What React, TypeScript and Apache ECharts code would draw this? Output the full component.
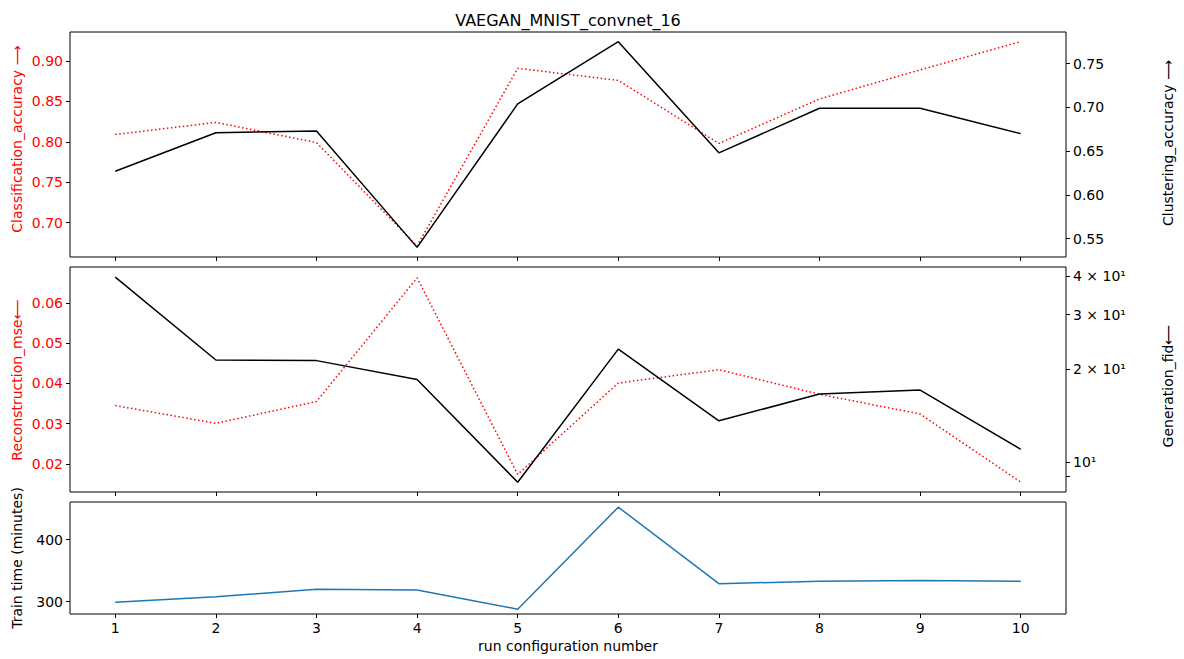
import React, { useEffect, useRef } from "react";
import * as echarts from "echarts";

const runs = [1, 2, 3, 4, 5, 6, 7, 8, 9, 10];
const classificationAccuracy = [0.809, 0.824, 0.799, 0.671, 0.891, 0.876, 0.798, 0.853, 0.889, 0.924];
const clusteringAccuracy = [0.627, 0.671, 0.673, 0.540, 0.704, 0.775, 0.648, 0.699, 0.699, 0.670];
const reconstructionMse = [0.0345, 0.0301, 0.0355, 0.0662, 0.0174, 0.0401, 0.0434, 0.0373, 0.0324, 0.0155];
const generationFid = [39.7, 21.4, 21.3, 18.5, 8.6, 23.2, 13.6, 16.6, 17.1, 11.0];
const trainTime = [299, 308, 320, 319, 288, 452, 329, 333, 334, 333];

const xTicks = runs;
const accTicks = [0.7, 0.75, 0.8, 0.85, 0.9];
const clusTicks = [0.55, 0.6, 0.65, 0.7, 0.75];
const mseTicks = [0.02, 0.03, 0.04, 0.05, 0.06];
const fidTicks = [10, 20, 30, 40];
const fidAllTicks = [9, 10, 20, 30, 40];
const timeTicks = [300, 400];

const FONT = "DejaVu Sans";
const sup: Record<string, string> = { "1": "\u00b9" };

function fidLabel(v: number): string {
  const m = Math.round(v / 10);
  if (m === 1) return "10" + sup["1"];
  return m + " \u00d7 10" + sup["1"];
}

const pairs = (ys: number[]) => runs.map((x, i) => [x, ys[i]]);

function vText(x: number, y: number, text: string, color: string) {
  return {
    type: "text",
    x,
    y,
    rotation: Math.PI / 2,
    style: { text, fill: color, font: `14px '${FONT}'`, textAlign: "center", textVerticalAlign: "middle" },
  };
}

export default function App() {
  const ref = useRef<HTMLDivElement>(null);
  useEffect(() => {
    if (!ref.current) return;
    const chart = echarts.init(ref.current, undefined, { renderer: "svg" });
    const gridBase = {
      left: 70,
      width: 996,
      show: true,
      borderColor: "#000",
      borderWidth: 1,
      backgroundColor: "transparent",
    };
    const xAxisBase = (gi: number, showLabels: boolean) => ({
      type: "value",
      gridIndex: gi,
      min: 0.55,
      max: 10.45,
      splitLine: { show: false },
      axisLine: { show: false },
      axisTick: { show: true, length: 4, customValues: xTicks, lineStyle: { color: "#000" } },
      axisLabel: {
        show: showLabels,
        customValues: xTicks,
        color: "#000",
        fontFamily: FONT,
        fontSize: 14,
        margin: 7,
      },
    });
    const yAxisBase = (
      gi: number,
      pos: string,
      min: number,
      max: number,
      ticks: number[],
      color: string,
      fmt: (v: number) => string
    ) => ({
      type: "value",
      gridIndex: gi,
      position: pos,
      min,
      max,
      splitLine: { show: false },
      axisLine: { show: false },
      axisTick: { show: true, length: 4, customValues: ticks, lineStyle: { color: "#000" } },
      axisLabel: {
        customValues: ticks,
        color,
        fontFamily: FONT,
        fontSize: 14,
        margin: 7,
        formatter: fmt,
      },
    });
    const f2 = (v: number) => v.toFixed(2);
    const option: any = {
      animation: false,
      backgroundColor: "#fff",
      grid: [
        { ...gridBase, top: 32, height: 225 },
        { ...gridBase, top: 267, height: 225 },
        { ...gridBase, top: 502, height: 112 },
      ],
      xAxis: [xAxisBase(0, false), xAxisBase(1, false), xAxisBase(2, true)],
      yAxis: [
        yAxisBase(0, "left", 0.6574, 0.9359, accTicks, "#ff0000", f2),
        yAxisBase(0, "right", 0.529, 0.7861, clusTicks, "#000", f2),
        yAxisBase(1, "left", 0.01304, 0.0689, mseTicks, "#ff0000", f2),
        {
          type: "log",
          logBase: 10,
          gridIndex: 1,
          position: "right",
          min: 8.0,
          max: 42.8,
          splitLine: { show: false },
          axisLine: { show: false },
          axisTick: { show: true, length: 4, customValues: fidAllTicks, lineStyle: { color: "#000" } },
          minorTick: { show: false },
          axisLabel: {
            customValues: fidTicks,
            color: "#000",
            fontFamily: FONT,
            fontSize: 14,
            margin: 7,
            formatter: fidLabel,
          },
        },
        yAxisBase(2, "left", 280.3, 460.3, timeTicks, "#000", (v: number) => String(Math.round(v))),
      ],
      series: [
        {
          type: "line",
          xAxisIndex: 0,
          yAxisIndex: 0,
          data: pairs(classificationAccuracy),
          symbol: "none",
          lineStyle: { color: "#ff0000", width: 1.5, type: [1.5, 2.5] },
        },
        {
          type: "line",
          xAxisIndex: 0,
          yAxisIndex: 1,
          data: pairs(clusteringAccuracy),
          symbol: "none",
          lineStyle: { color: "#000", width: 1.5 },
        },
        {
          type: "line",
          xAxisIndex: 1,
          yAxisIndex: 2,
          data: pairs(reconstructionMse),
          symbol: "none",
          lineStyle: { color: "#ff0000", width: 1.5, type: [1.5, 2.5] },
        },
        {
          type: "line",
          xAxisIndex: 1,
          yAxisIndex: 3,
          data: pairs(generationFid),
          symbol: "none",
          lineStyle: { color: "#000", width: 1.5 },
        },
        {
          type: "line",
          xAxisIndex: 2,
          yAxisIndex: 4,
          data: pairs(trainTime),
          symbol: "none",
          lineStyle: { color: "#1f77b4", width: 1.5 },
        },
      ],
      graphic: [
        {
          type: "text",
          x: 568,
          y: 20,
          style: { text: "VAEGAN_MNIST_convnet_16", fill: "#000", font: `16px '${FONT}'`, textAlign: "center", textVerticalAlign: "middle" },
        },
        {
          type: "text",
          x: 568,
          y: 646,
          style: { text: "run configuration number", fill: "#000", font: `14px '${FONT}'`, textAlign: "center", textVerticalAlign: "middle" },
        },
        vText(17, 139, "Classification_accuracy \u27f6", "#ff0000"),
        vText(17, 380, "Reconstruction_mse\u27f5", "#ff0000"),
        vText(17, 558, "Train time (minutes)", "#000"),
        vText(1168, 143, "Clustering_accuracy \u27f6", "#000"),
        vText(1168, 386, "Generation_fid\u27f5", "#000"),
      ],
    };
    chart.setOption(option);
    return () => chart.dispose();
  }, []);
  return (
    <div
      ref={ref}
      style={{ position: "absolute", left: 0, top: 0, width: 1184, height: 659 }}
    />
  );
}
